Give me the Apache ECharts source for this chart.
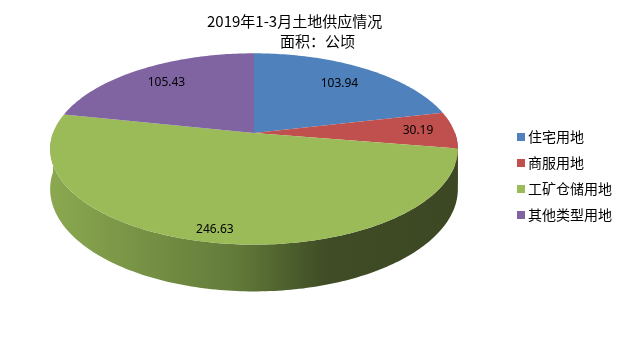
<!DOCTYPE html>
<html lang="zh">
<head>
    <meta charset="utf-8">
    <title>2019年1-3月土地供应情况</title>
    <style>
        html, body { margin: 0; padding: 0; background: #fff; }
        #chart { width: 630px; height: 355px; }
    </style>
</head>
<body>
<div id="chart"></div>
<script src="https://cdn.jsdelivr.net/npm/echarts@6/dist/echarts.min.js"></script>
<script type="text/javascript">

// 数据
var categories = ['住宅用地', '商服用地', '工矿仓储用地', '其他类型用地'];
var values = [103.94, 30.19, 246.63, 105.43];
var colors = ['#4f81bd', '#c0504d', '#9bbb59', '#8064a2'];
var sideColors = ['#3a5f8c', '#8c3836', '#6b8a3a', '#5d4978'];
var labelRadius = [0.75, 0.82, 0.9, 0.76];

// 3D 饼图几何参数（伪透视）
var CX = 254, CY = 133, RX = 201, RY = 93, P = 0.1667, DEPTH = 39;
var total = values.reduce(function (s, v) { return s + v; }, 0);

function proj(deg, r, down) {
    var a = deg * Math.PI / 180;
    var s = Math.sin(a) * r;
    var f = 1 / (1 + P * s);
    return [CX + RX * Math.cos(a) * r * f, CY - RY * s * f + (down || 0) * f];
}

// 每个扇区的起止角度（从正上方顺时针）
function sliceAngles(idx) {
    var start = 90;
    for (var i = 0; i < idx; i++) start -= 360 * values[i] / total;
    return [start, start - 360 * values[idx] / total];
}

function rim(a0, a1, down) {
    var pts = [];
    var n = Math.max(2, Math.ceil(Math.abs(a0 - a1)));
    for (var i = 0; i <= n; i++) pts.push(proj(a0 + (a1 - a0) * i / n, 1, down));
    return pts;
}

var sideGradient = new echarts.graphic.LinearGradient(CX - RX, 0, CX + RX, 0, [
    { offset: 0, color: '#8aa84f' },
    { offset: 0.45, color: '#637b3a' },
    { offset: 0.68, color: '#3f4c25' },
    { offset: 1, color: '#3c4823' }
], true);

function renderSide(params, api) {
    var ang = sliceAngles(params.dataIndex);
    var a0 = Math.min(ang[0], 0), a1 = Math.max(ang[1], -180);
    if (a0 <= a1) return { type: 'group', children: [] };
    var top = rim(a0, a1, 0);
    var bottom = rim(a1, a0, DEPTH);
    var fill = params.dataIndex === 2 ? sideGradient : sideColors[params.dataIndex];
    return {
        type: 'polygon',
        shape: { points: top.concat(bottom) },
        style: { fill: fill }
    };
}

function renderTop(params, api) {
    var idx = params.dataIndex;
    var ang = sliceAngles(idx);
    var pts = [[CX, CY]].concat(rim(ang[0], ang[1], 0));
    var mid = (ang[0] + ang[1]) / 2;
    var lp = proj(mid, labelRadius[idx], 0);
    return {
        type: 'group',
        children: [{
            type: 'polygon',
            shape: { points: pts },
            style: { fill: colors[idx] }
        }, {
            type: 'text',
            x: lp[0],
            y: lp[1],
            z2: 10,
            style: {
                text: api.value(0).toFixed(2),
                fill: '#000',
                font: '12px "Noto Sans"',
                align: 'center',
                verticalAlign: 'middle'
            }
        }]
    };
}

var chart = echarts.init(document.getElementById('chart'));
var fontCN = '"Noto Sans CJK SC", sans-serif';

chart.setOption({
    animation: false,
    title: [{
        text: '2019年1-3月土地供应情况',
        left: 207, top: 12, padding: 0,
        textStyle: { fontSize: 15, fontWeight: 'normal', color: '#000', fontFamily: fontCN, lineHeight: 18 }
    }, {
        text: '面积：公顷',
        left: 280, top: 32, padding: 0,
        textStyle: { fontSize: 15, fontWeight: 'normal', color: '#000', fontFamily: fontCN, lineHeight: 18 }
    }],
    legend: {
        orient: 'vertical',
        left: 517, top: 129, padding: 0,
        itemWidth: 8, itemHeight: 8, itemGap: 10,
        icon: 'rect',
        data: categories,
        textStyle: { fontSize: 14, color: '#000', fontFamily: fontCN, lineHeight: 16, padding: [0, 0, 0, -2] }
    },
    series: [{
        // 仅用于图例
        type: 'pie',
        radius: [0, 0],
        center: [-50, -50],
        silent: true,
        label: { show: false },
        labelLine: { show: false },
        data: categories.map(function (c, i) {
            return { name: c, value: values[i], itemStyle: { color: colors[i] } };
        })
    }, {
        type: 'custom',
        name: 'side',
        coordinateSystem: 'none',
        silent: true,
        z: 1,
        renderItem: renderSide,
        data: values.map(function (v) { return [v]; })
    }, {
        type: 'custom',
        name: 'top',
        coordinateSystem: 'none',
        silent: true,
        z: 2,
        renderItem: renderTop,
        data: values.map(function (v) { return [v]; })
    }]
});

</script>
</body>
</html>
